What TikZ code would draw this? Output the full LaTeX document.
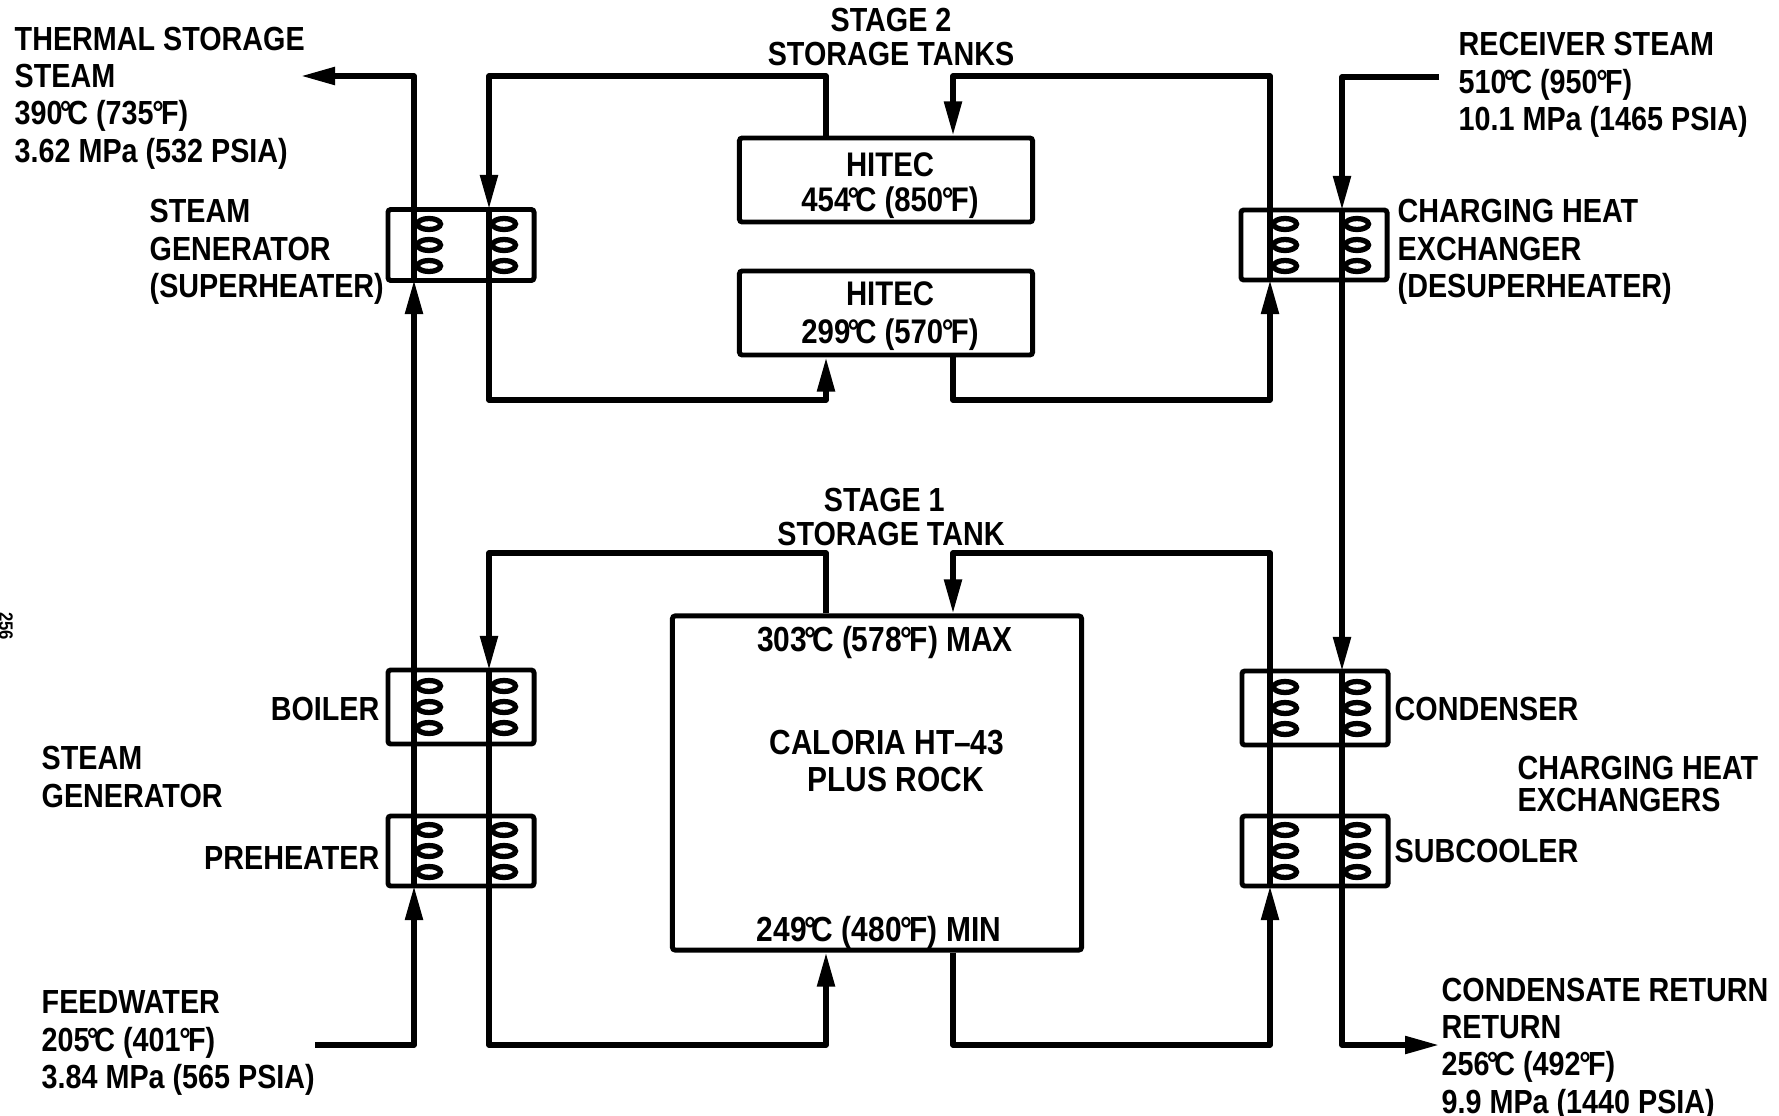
\documentclass[tikz,border=0pt]{standalone}
\usepackage{fontspec}
\setmainfont{Liberation Sans}[FakeStretch=0.86]
\usetikzlibrary{arrows.meta}
\tikzset{
  pipe/.style={line width=1.5pt,line join=round},
  flow/.style={pipe,-{Triangle[length=3.4mm,width=1.7mm]}},
  hx/.style={draw,line width=1.4pt,rounded corners=0.8pt,inner sep=0pt,minimum width=1.46cm},
  tankbox/.style={draw,line width=1.4pt,rounded corners=0.8pt,inner sep=0pt},
  lbl/.style={inner sep=0pt,align=left,font=\fontsize{9.5}{10.6}\selectfont\bfseries},
  tanklbl/.style={lbl,align=center,font=\fontsize{9.9}{10.6}\selectfont\bfseries},
  coil/.style={line width=1.5pt},
}
\newcommand{\dgC}{\kern-.08em°\kern-.12em C}
\newcommand{\dgF}{\kern-.04em°\kern-.08em F}
\begin{document}
\begin{tikzpicture}[x=0.01cm,y=-0.01cm]
\useasboundingbox (0,0) rectangle (1779,1115);
% tanks
\node[tankbox,minimum width=2.93cm,minimum height=0.84cm] (hot) at (886,180) {};
\node[tankbox,minimum width=2.93cm,minimum height=0.84cm] (warm) at (886,313) {};
\node[tankbox,minimum width=4.09cm,minimum height=3.34cm] (tank) at (877,783) {};
% heat exchangers
\node[hx,minimum height=0.71cm] (sg) at (461,245) {};
\node[hx,minimum height=0.74cm] (boil) at (461,707) {};
\node[hx,minimum height=0.70cm] (pre) at (461,851) {};
\node[hx,minimum height=0.70cm] (chx) at (1314,245) {};
\node[hx,minimum height=0.74cm] (cond) at (1315,708) {};
\node[hx,minimum height=0.70cm] (sub) at (1315,851) {};
% coils
\foreach \cx/\cy in {414/245,489/245,414/707,489/707,414/851,489/851,1270/245,1342/245,1270/708,1342/708,1270/851,1342/851}
  \foreach \dy in {-21,0,21}
    \draw[coil] (\cx+15,\cy+\dy) ellipse [x radius=0.115cm,y radius=0.055cm];
% points on the pipes
\coordinate (fwin) at (315,1045);
\coordinate (l1low) at (414,1045);
\coordinate (l1pre) at (414,886);
\coordinate (l1sg) at (414,280);
\coordinate (l1top) at (414,76);
\coordinate (tsout) at (301,76);
\coordinate (l2top) at (489,76);
\coordinate (l2sg) at (489,209);
\coordinate (l2mid) at (489,400);
\coordinate (l2st) at (489,553);
\coordinate (l2boil) at (489,670);
\coordinate (l2low) at (489,1045);
\coordinate (r1top) at (1270,76);
\coordinate (r1chx) at (1270,280);
\coordinate (r1mid) at (1270,400);
\coordinate (r1st) at (1270,553);
\coordinate (r1sub) at (1270,886);
\coordinate (r1low) at (1270,1045);
\coordinate (rsin) at (1439,77);
\coordinate (r2top) at (1342,77);
\coordinate (r2chx) at (1342,210);
\coordinate (r2cond) at (1342,671);
\coordinate (r2low) at (1342,1045);
\coordinate (crout) at (1439,1045);
\coordinate (c1a) at (826,76);
\coordinate (c2a) at (953,76);
\coordinate (c1b) at (826,400);
\coordinate (c2b) at (953,400);
\coordinate (c1c) at (826,553);
\coordinate (c2c) at (953,553);
\coordinate (c1d) at (826,1045);
\coordinate (c2d) at (953,1045);
% steam side
\draw[flow] (fwin) -- (l1low) -- (l1pre);
\draw[flow] (l1pre) -- (l1sg);
\draw[flow] (l1sg) -- (l1top) -- (tsout);
\draw[flow] (rsin) -- (r2top) -- (r2chx);
\draw[flow] (r2chx) -- (r2cond);
\draw[flow] (r2cond) -- (r2low) -- (crout);
% stage 2 loop
\draw[flow] (hot.north -| c1a) -- (c1a) -- (l2top) -- (l2sg);
\draw[flow] (l2sg) -- (l2mid) -- (c1b) -- (warm.south -| c1b);
\draw[flow] (warm.south -| c2b) -- (c2b) -- (r1mid) -- (r1chx);
\draw[flow] (r1chx) -- (r1top) -- (c2a) -- (hot.north -| c2a);
% stage 1 loop
\draw[flow] (tank.north -| c1c) -- (c1c) -- (l2st) -- (l2boil);
\draw[flow] (l2boil) -- (l2low) -- (c1d) -- (tank.south -| c1d);
\draw[flow] (tank.south -| c2d) -- (c2d) -- (r1low) -- (r1sub);
\draw[flow] (r1sub) -- (r1st) -- (c2c) -- (tank.north -| c2c);
% labels
\node[lbl,anchor=west] (ts) at (14,98) {THERMAL STORAGE\\STEAM\\390\dgC\ (735\dgF)\\3.62 MPa (532 PSIA)};
\node[lbl,anchor=west] (sgl) at (149,252) {STEAM\\GENERATOR\\(SUPERHEATER)};
\node[lbl,align=center,font=\fontsize{9.5}{9.4}\selectfont\bfseries] (st2) at (891,37) {STAGE 2\\STORAGE TANKS};
\node[tanklbl,font=\fontsize{9.7}{9.9}\selectfont\bfseries] (hotl) at (890,186) {HITEC\\454\dgC\ (850\dgF)};
\node[tanklbl,font=\fontsize{9.7}{10.7}\selectfont\bfseries] (warml) at (890,316) {HITEC\\299\dgC\ (570\dgF)};
\node[lbl,anchor=west] (rs) at (1458,85) {RECEIVER STEAM\\510\dgC\ (950\dgF)\\10.1 MPa (1465 PSIA)};
\node[lbl,anchor=west] (chl) at (1397,252) {CHARGING HEAT\\EXCHANGER\\(DESUPERHEATER)};
\node[lbl,align=center,font=\fontsize{9.5}{9.4}\selectfont\bfseries] (st1) at (891,517) {STAGE 1\hspace*{0.4em}\\STORAGE TANK};
\node[tanklbl] (tmax) at (885,642) {303\dgC\ (578\dgF) MAX};
\node[tanklbl] (cal) at (887,761) {CALORIA HT–43\\\hspace*{0.5em}PLUS ROCK};
\node[tanklbl] (tmin) at (879,932) {249\dgC\ (480\dgF) MIN};
\node[lbl,anchor=east] (bl) at (380,709) {BOILER};
\node[lbl,anchor=east] (pl) at (380,858) {PREHEATER};
\node[lbl,anchor=west] (sgm) at (41,777) {STEAM\\GENERATOR};
\node[lbl,anchor=west] (fw) at (41,1043) {FEEDWATER\\205\dgC\ (401\dgF)\\3.84 MPa (565 PSIA)};
\node[lbl,anchor=west] (cl) at (1394,709) {CONDENSER};
\node[lbl,anchor=west] (scl) at (1394,851) {SUBCOOLER};
\node[lbl,anchor=west,font=\fontsize{9.5}{9.2}\selectfont\bfseries] (chm) at (1517,784) {CHARGING HEAT\\EXCHANGERS};
\node[lbl,anchor=west] (cr) at (1441,1049) {CONDENSATE RETURN\\RETURN\\256\dgC\ (492\dgF)\\9.9 MPa (1440 PSIA)};
\node[lbl,rotate=-90,font=\fontsize{5.5}{6}\selectfont\bfseries] (pg) at (6,626) {256};
\end{tikzpicture}
\end{document}
